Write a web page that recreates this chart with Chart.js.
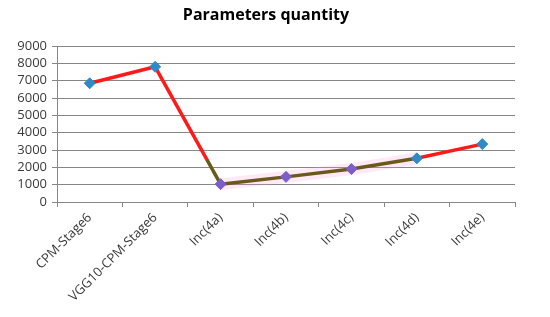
<!DOCTYPE html>
<html>
<head>
<meta charset="utf-8">
<script src="https://cdn.jsdelivr.net/npm/chart.js@4/dist/chart.umd.min.js"></script>
<style>
  html, body { margin: 0; padding: 0; background: #fff; }
  #wrap { width: 550px; height: 317px; }
</style>
</head>
<body>
<div id="wrap"><canvas id="chart"></canvas></div>
<script>
const categories = ['CPM-Stage6', 'VGG10-CPM-Stage6', 'Inc(4a)', 'Inc(4b)', 'Inc(4c)', 'Inc(4d)', 'Inc(4e)'];
const params = [6850, 7800, 1030, 1450, 1900, 2520, 3340];
const yTicks = [0, 1000, 2000, 3000, 4000, 5000, 6000, 7000, 8000, 9000];

const RED = '#ff1a1a';
const OLIVE = '#6a5a1a';
const BLUE = '#2f8bc6';
const PURPLE = '#7a5fc8';
const markerColors = [BLUE, BLUE, PURPLE, PURPLE, PURPLE, BLUE, BLUE];
const oliveFrom = 2; // first point of the olive stretch
const oliveTo = 5;   // last point of the olive stretch
const oliveStartValue = 2400; // olive begins part way down the drop

const tickFont = { family: 'Open Sans', size: 13 };

const titlePlugin = {
  id: 'titleText',
  afterDraw(chart) {
    const { ctx } = chart;
    ctx.save();
    ctx.font = 'bold 16px "Open Sans"';
    ctx.fillStyle = '#000';
    ctx.textAlign = 'center';
    ctx.textBaseline = 'middle';
    ctx.fillText('Parameters quantity', 266, 15);
    ctx.restore();
  },
};

const segmentColor = (ctx) => {
  const i = ctx.p0DataIndex;
  if (i >= oliveFrom && i < oliveTo) return OLIVE;
  if (i === oliveFrom - 1) {
    const chart = ctx.chart;
    const y = chart.scales.y;
    const top = y.getPixelForValue(params[i]);
    const bottom = y.getPixelForValue(params[i + 1]);
    const cut = y.getPixelForValue(oliveStartValue);
    const g = chart.ctx.createLinearGradient(0, top, 0, bottom);
    const stop = Math.min(Math.max((cut - top) / (bottom - top), 0), 1);
    g.addColorStop(0, RED);
    g.addColorStop(stop, RED);
    g.addColorStop(stop, OLIVE);
    g.addColorStop(1, OLIVE);
    return g;
  }
  return RED;
};

new Chart(document.getElementById('chart'), {
  type: 'line',
  data: {
    labels: categories,
    datasets: [
      {
        data: params,
        borderColor: RED,
        borderWidth: 3.5,
        tension: 0,
        pointStyle: 'rectRot',
        pointRadius: 5.5,
        pointHoverRadius: 5.5,
        pointBackgroundColor: markerColors,
        pointBorderColor: markerColors,
        pointBorderWidth: 1,
        segment: { borderColor: segmentColor },
        order: 0,
      },
      {
        // faint pink glow under the olive stretch
        data: params.map((v, i) => (i >= oliveFrom && i <= oliveTo ? v : null)),
        borderColor: 'rgba(255, 150, 220, 0.22)',
        borderWidth: 12,
        pointRadius: 0,
        tension: 0,
        order: 1,
      },
    ],
  },
  options: {
    responsive: true,
    maintainAspectRatio: false,
    animation: false,
    events: [],
    layout: { padding: { top: 46, right: 35, left: 0, bottom: 0 } },
    plugins: {
      legend: { display: false },
      title: { display: false },
      tooltip: { enabled: false },
    },
    scales: {
      x: {
        offset: true,
        grid: {
          offset: true,
          drawOnChartArea: false,
          drawTicks: true,
          tickLength: 5,
          color: '#868686',
        },
        border: { color: '#868686', width: 1 },
        ticks: {
          font: tickFont,
          color: '#3a3a3a',
          minRotation: 45,
          maxRotation: 45,
          padding: 3,
          autoSkip: false,
        },
        afterFit(scale) { scale.height = 115; },
      },
      y: {
        min: 0,
        max: 9000,
        afterBuildTicks(scale) { scale.ticks = yTicks.map((v) => ({ value: v })); },
        grid: { color: '#868686', tickLength: 5, drawTicks: true },
        border: { color: '#868686', width: 1 },
        ticks: {
          font: tickFont,
          color: '#3a3a3a',
          padding: 5,
          autoSkip: false,
          callback: (v) => String(v),
        },
        afterFit(scale) { scale.width = 57; },
      },
    },
  },
  plugins: [titlePlugin],
});
</script>
</body>
</html>
